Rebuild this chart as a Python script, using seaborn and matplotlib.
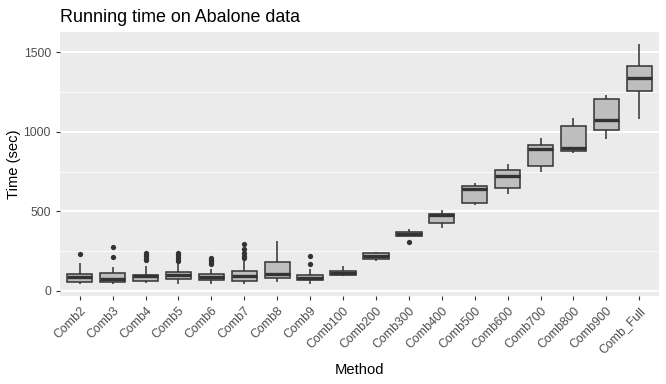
import seaborn as sns
import pandas as pd
import matplotlib.pyplot as plt
from matplotlib.ticker import MultipleLocator

methods = ["Comb2", "Comb3", "Comb4", "Comb5", "Comb6", "Comb7", "Comb8", "Comb9",
           "Comb100", "Comb200", "Comb300", "Comb400", "Comb500", "Comb600",
           "Comb700", "Comb800", "Comb900", "Comb_Full"]

# five-number summaries (seconds)
whisk_lo = [44, 44, 48, 42, 42, 42, 55, 44, 90, 184, 342, 392, 537, 606, 744, 864, 954, 1084]
q1 = [55, 55, 61, 74, 67, 61, 80, 65, 96, 197, 342, 426, 551, 646, 784, 879, 1013, 1256]
median = [84, 75, 92, 96, 88, 90, 103, 82, 111, 216, 357, 475, 643, 723, 889, 901, 1072, 1340]
q3 = [107, 113, 99, 117, 105, 124, 180, 96, 126, 239, 369, 482, 658, 758, 916, 1036, 1206, 1413]
whisk_hi = [174, 149, 155, 166, 136, 189, 313, 136, 157, 245, 390, 509, 679, 799, 964, 1088, 1233, 1553]

outliers = {
    "Comb2": [231],
    "Comb3": [212, 275],
    "Comb4": [190, 200, 215, 225, 235],
    "Comb5": [184, 199, 212, 226, 239],
    "Comb6": [166, 175, 185, 195, 205],
    "Comb7": [208, 220, 237, 262, 296],
    "Comb9": [170, 218],
    "Comb300": [304],
}

rows = []
for i, m in enumerate(methods):
    for v in [whisk_lo[i], q1[i], median[i], q3[i], whisk_hi[i]]:
        rows.append((m, v))
df = pd.DataFrame(rows, columns=["Method", "Time"])
out_df = pd.DataFrame([(m, v) for m, vals in outliers.items() for v in vals],
                      columns=["Method", "Time"])

plt.rcParams["font.family"] = ["Liberation Sans", "DejaVu Sans"]

fig, ax = plt.subplots(figsize=(6.66, 3.84), dpi=100)
fig.subplots_adjust(left=60/666, right=659/666, top=1-32/384, bottom=1-296/384)

ax.set_facecolor("#EBEBEB")
ax.set_axisbelow(True)
ax.yaxis.set_major_locator(MultipleLocator(500))
ax.yaxis.set_minor_locator(MultipleLocator(250))
ax.grid(which="major", color="white", linewidth=1.3)
ax.grid(which="minor", axis="y", color="white", linewidth=0.6)

sns.boxplot(data=df, x="Method", y="Time", order=methods, ax=ax,
            color="#BEBEBE", linecolor="#333333", linewidth=1.1, width=0.77,
            saturation=1, whis=(0, 100), showcaps=False, showfliers=False,
            medianprops=dict(linewidth=2.4, color="#333333"))
sns.stripplot(data=out_df, x="Method", y="Time", order=methods, ax=ax,
              jitter=False, color="#333333", size=3.8, linewidth=0)

ax.set_xlim(-0.6, len(methods) - 0.4)
ax.set_ylim(-34, 1629)
for s in ax.spines.values():
    s.set_visible(False)
ax.tick_params(which="major", length=3, color="#333333", labelcolor="#4D4D4D", labelsize=8.8)
ax.tick_params(which="minor", length=0)
plt.setp(ax.get_xticklabels(), rotation=45, ha="right", rotation_mode="anchor")

ax.set_title("Running time on Abalone data", loc="left", fontsize=12.9, pad=7)
ax.set_xlabel("Method", fontsize=10.6, labelpad=5)
ax.set_ylabel("Time (sec)", fontsize=10.6, labelpad=2)

fig.savefig("out.png", dpi=100)
